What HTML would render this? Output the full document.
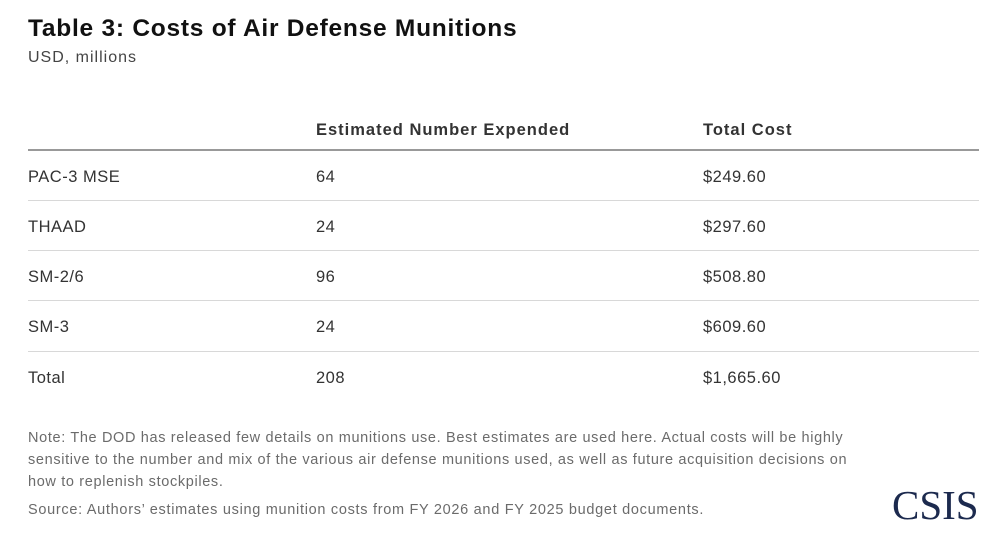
<!DOCTYPE html>
<html><head><meta charset="utf-8"><style>
body{margin:0;width:1000px;height:559px;background:#fff;position:relative;overflow:hidden;font-family:"Liberation Sans",sans-serif;}
.a{position:absolute;white-space:nowrap;line-height:1;}
.t{font-size:16.5px;color:#333;letter-spacing:0.5px;}
.h{font-size:16.5px;font-weight:bold;color:#333;letter-spacing:1px;}
.n{font-size:14.5px;color:#6b6b6b;letter-spacing:0.65px;}
.l{position:absolute;left:28px;width:951px;height:1px;background:#d8d8d8;}
</style></head><body>
<div class="a" style="left:28px;top:17px;font-size:24.5px;font-weight:bold;color:#111;letter-spacing:0.75px;">Table 3: Costs of Air Defense Munitions</div>
<div class="a" style="left:28px;top:50px;font-size:16px;color:#444;letter-spacing:1px;">USD, millions</div>
<div class="a h" style="left:316px;top:122px;">Estimated Number Expended</div>
<div class="a h" style="left:703px;top:122px;">Total Cost</div>
<div class="l" style="top:149px;height:2px;background:#999;"></div>
<div class="a t" style="left:28px;top:169px;">PAC-3 MSE</div><div class="a t" style="left:316px;top:169px;">64</div><div class="a t" style="left:703px;top:169px;">$249.60</div>
<div class="l" style="top:200px;"></div>
<div class="a t" style="left:28px;top:219px;">THAAD</div><div class="a t" style="left:316px;top:219px;">24</div><div class="a t" style="left:703px;top:219px;">$297.60</div>
<div class="l" style="top:250px;"></div>
<div class="a t" style="left:28px;top:269px;">SM-2/6</div><div class="a t" style="left:316px;top:269px;">96</div><div class="a t" style="left:703px;top:269px;">$508.80</div>
<div class="l" style="top:300px;"></div>
<div class="a t" style="left:28px;top:319px;">SM-3</div><div class="a t" style="left:316px;top:319px;">24</div><div class="a t" style="left:703px;top:319px;">$609.60</div>
<div class="l" style="top:351px;"></div>
<div class="a t" style="left:28px;top:370px;">Total</div><div class="a t" style="left:316px;top:370px;">208</div><div class="a t" style="left:703px;top:370px;">$1,665.60</div>
<div class="a n" style="left:28px;top:431px;">Note: The DOD has released few details on munitions use. Best estimates are used here. Actual costs will be highly</div>
<div class="a n" style="left:28px;top:453px;">sensitive to the number and mix of the various air defense munitions used, as well as future acquisition decisions on</div>
<div class="a n" style="left:28px;top:475px;">how to replenish stockpiles.</div>
<div class="a n" style="left:28px;top:503px;letter-spacing:0.7px;">Source: Authors’ estimates using munition costs from FY 2026 and FY 2025 budget documents.</div>
<div class="a" style="left:892px;top:485px;font-family:'Liberation Serif',serif;font-size:41px;color:#1c2a4e;">CSIS</div>
</body></html>
